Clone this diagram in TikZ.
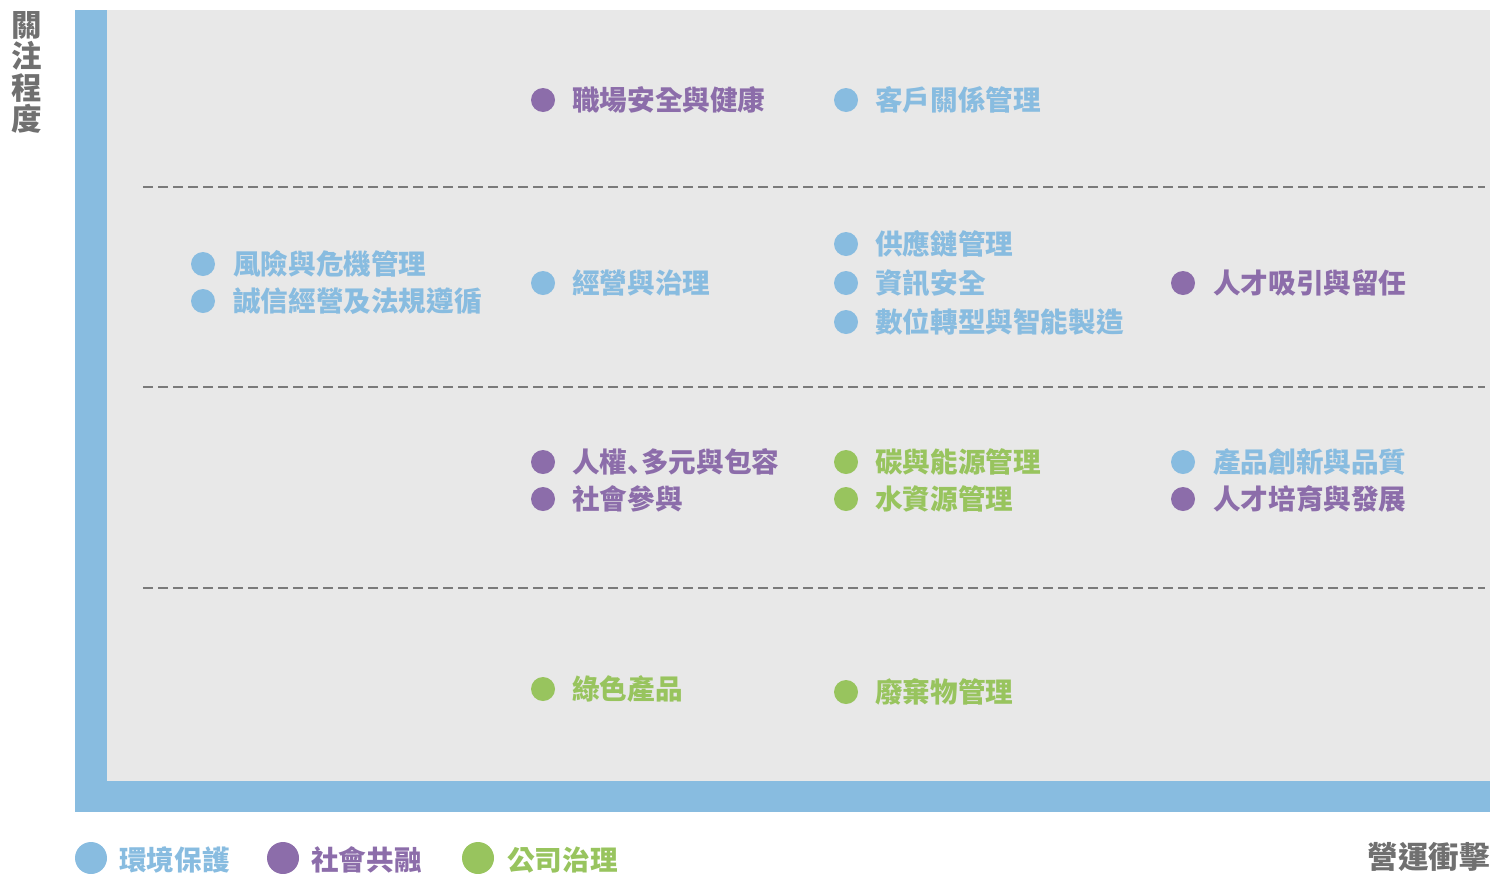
\documentclass[tikz,border=0pt]{standalone}
\usepackage{fontspec}
\setmainfont{Noto Sans CJK TC}
\newfontfamily\scfont{Noto Sans CJK SC}
\definecolor{envblue}{HTML}{88BCE0}
\definecolor{socpurple}{HTML}{8C6DAA}
\definecolor{govgreen}{HTML}{98C45E}
\definecolor{bggray}{HTML}{E8E8E8}
\definecolor{txtgray}{HTML}{707070}
\definecolor{dashgray}{HTML}{7A7A7A}
\tikzset{
  lbl/.style={anchor=west, inner sep=0pt, font=\fontsize{27.6}{27.6}\selectfont\bfseries},
  dotb/.style={circle, fill=envblue, inner sep=0pt, minimum size=24pt},
  dotp/.style={circle, fill=socpurple, inner sep=0pt, minimum size=24pt},
  dotg/.style={circle, fill=govgreen, inner sep=0pt, minimum size=24pt},
  bigdot/.style={circle, inner sep=0pt, minimum size=32pt},
  sep/.style={draw=dashgray, line width=2pt, dash pattern=on 10pt off 5pt},
  axis/.style={inner sep=0pt, text=txtgray, font=\fontsize{30.5}{31.5}\selectfont\bfseries}
}
\begin{document}
\begin{tikzpicture}[x=1pt,y=-1pt]
\useasboundingbox (0,0) rectangle (1490,873);
% frame
\fill[envblue] (75,10) rectangle (1490,812);
\fill[bggray] (107,10) rectangle (1490,781);
% separators
\coordinate (s1a) at (143,187); \coordinate (s1b) at (1485,187);
\coordinate (s2a) at (143,387); \coordinate (s2b) at (1485,387);
\coordinate (s3a) at (143,588); \coordinate (s3b) at (1485,588);
\draw[sep] (s1a) -- (s1b);
\draw[sep] (s2a) -- (s2b);
\draw[sep] (s3a) -- (s3b);
% axis labels
\node[axis, anchor=north, align=center] (yax) at (27,11) {關\\注\\程\\度};
\node[axis, anchor=east] (xax) at (1490,857) {營運衝擊};
% row 1
\node[dotp] (d1) at (543,100) {}; \node[lbl, text=socpurple] (t1) at (572,100) {職場安全與健康};
\node[dotb] (d2) at (846,100) {}; \node[lbl, text=envblue] (t2) at (875,100) {客戶關係管理};
% row 2
\node[dotb] (d3) at (203,264) {}; \node[lbl, text=envblue] (t3) at (233,264) {風險與危機管理};
\node[dotb] (d4) at (203,301) {}; \node[lbl, text=envblue] (t4) at (233,301) {誠信經營及法規遵循};
\node[dotb] (d5) at (543,283) {}; \node[lbl, text=envblue] (t5) at (572,283) {經營與治理};
\node[dotb] (d6) at (846,244) {}; \node[lbl, text=envblue] (t6) at (875,244) {供應鏈管理};
\node[dotb] (d7) at (846,283) {}; \node[lbl, text=envblue] (t7) at (875,283) {資訊安全};
\node[dotb] (d8) at (846,322) {}; \node[lbl, text=envblue] (t8) at (875,322) {數位轉型與智能製造};
\node[dotp] (d9) at (1183,283) {}; \node[lbl, text=socpurple] (t9) at (1213,283) {人才吸引與留任};
% row 3
\node[dotp] (d10) at (543,462) {}; \node[lbl, text=socpurple] (t10) at (572,462) {人權{\scfont\bfseries 、}\kern-0.5em 多元與包容};
\node[dotp] (d11) at (543,499) {}; \node[lbl, text=socpurple] (t11) at (572,499) {社會參與};
\node[dotg] (d12) at (846,462) {}; \node[lbl, text=govgreen] (t12) at (875,462) {碳與能源管理};
\node[dotg] (d13) at (846,499) {}; \node[lbl, text=govgreen] (t13) at (875,499) {水資源管理};
\node[dotb] (d14) at (1183,462) {}; \node[lbl, text=envblue] (t14) at (1213,462) {產品創新與品質};
\node[dotp] (d15) at (1183,499) {}; \node[lbl, text=socpurple] (t15) at (1213,499) {人才培育與發展};
% row 4
\node[dotg] (d16) at (543,689) {}; \node[lbl, text=govgreen] (t16) at (572,689) {綠色產品};
\node[dotg] (d17) at (846,692) {}; \node[lbl, text=govgreen] (t17) at (875,692) {廢棄物管理};
% legend
\node[bigdot, fill=envblue] (l1) at (91,858) {}; \node[lbl, text=envblue] (lt1) at (119,860) {環境保護};
\node[bigdot, fill=socpurple] (l2) at (283,858) {}; \node[lbl, text=socpurple] (lt2) at (311,860) {社會共融};
\node[bigdot, fill=govgreen] (l3) at (478,858) {}; \node[lbl, text=govgreen] (lt3) at (507,860) {公司治理};
\end{tikzpicture}
\end{document}
